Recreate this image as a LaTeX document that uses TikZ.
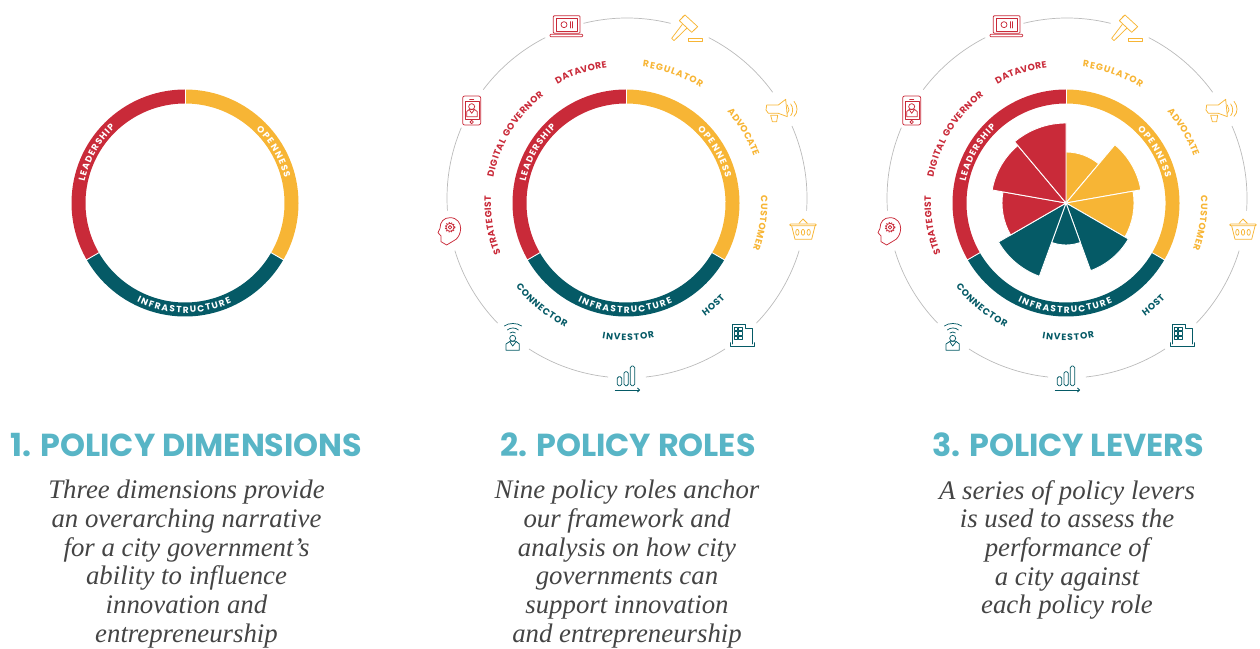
\documentclass[tikz,border=0pt]{standalone}
\usepackage{fontspec}
\usetikzlibrary{decorations.text,arrows.meta}
\setmainfont{Liberation Serif}
\newfontfamily\popfont{Poppins}
\definecolor{cred}{HTML}{C92A39}
\definecolor{cyel}{HTML}{F7B535}
\definecolor{cteal}{HTML}{055A66}
\definecolor{ctitle}{HTML}{58B5C6}
\definecolor{cbody}{HTML}{444444}
\definecolor{cgrey}{HTML}{BBBBBB}
\tikzset{
  titletext/.style={inner sep=0pt,anchor=base,text=ctitle,font=\popfont\bfseries\fontsize{31.8}{34}\selectfont},
  bodytext/.style={inner sep=0pt,anchor=north,align=center,text=cbody,font=\itshape\fontsize{26.8}{28.7}\selectfont},
  sep/.style={draw=white,line width=.9pt},
  petalstyle/.style={draw=white,line width=.9pt},
  orbit/.style={draw=cgrey,line width=.7pt},
  ico/.style={line width=.75pt,line join=round,line cap=round,draw=#1},
}
\newcommand\curved[6]{\path[decorate,decoration={text along path,text={|\popfont\bfseries\fontsize{#1}{10}\selectfont\color{#2}|#3},text align={#6}}] #4 arc[#5];}
\newcommand\rlabel[6]{\curved{#1}{#2}{#3}{(#4:#6)}{start angle=#4,end angle=#5,radius=#6}{fit to path}}
\newcommand\ringseg[3]{\fill[#3] (#1:113.5) arc[start angle=#1,end angle=#2,radius=113.5] -- (#2:99.5) arc[start angle=#2,end angle=#1,radius=99.5] -- cycle;}
\newcommand\dimring[1]{%
 \begin{scope}[shift={(#1,445)}]
  \ringseg{90}{210}{cred}\ringseg{90}{-30}{cyel}\ringseg{210}{330}{cteal}
  \foreach \a in {90,210,330} \draw[sep] (\a:98) -- (\a:115);
  \rlabel{9.0}{white}{LEADERSHIP}{168}{133}{102.5}
  \rlabel{9.0}{white}{OPENNESS}{46}{14}{102.5}
  \rlabel{9.0}{white}{INFRASTRUCTURE}{-116}{-65}{110}
 \end{scope}}
\newcommand\petal[4]{\filldraw[petalstyle,fill=#4] (0,0) -- (#1:#3) arc[start angle=#1,end angle=#2,radius=#3] -- cycle;}
\newcommand\rolering[1]{%
 \begin{scope}[shift={(#1+1,450)}]
  \foreach \a/\b in {117/143,157/184,197/224,237/264,276/303,316/343,356/383.6,36/63,76/104}
   \draw[orbit] (\a:180) arc[start angle=\a,end angle=\b,radius=180];
 \end{scope}
 \begin{scope}[shift={(#1,445)}]
  \rlabel{9.2}{cred}{DATAVORE}{120}{98}{137}
  \rlabel{9.2}{cyel}{REGULATOR}{83}{57}{137}
  \rlabel{9.2}{cyel}{ADVOCATE}{42}{20.5}{136}
  \rlabel{9.2}{cyel}{CUSTOMER}{3}{-20}{135}
  \rlabel{9.2}{cred}{STRATEGIST}{202}{177}{135}
  \rlabel{9.2}{cred}{DIGITAL GOVERNOR}{169}{127.5}{135}
  \rlabel{9.2}{cteal}{CONNECTOR}{217}{244}{138}
  \rlabel{9.2}{cteal}{INVESTOR}{260}{282}{137.5}
  \rlabel{9.2}{cteal}{HOST}{305}{316}{138}
 \end{scope}
 % red icons, crop 1 coordinates
 \begin{scope}[shift={(#1-626+430,648)},x=.33333pt,y=-.33333pt,ico=cred]
  \draw[rounded corners=1pt] (370,100) rectangle (450,47);
  \draw (378,93) rectangle (442,55);
  \draw[rounded corners=.8pt] (360,103) rectangle (458,110);
  \draw (402,74) circle[radius=9];
  \draw (421,65) -- (421,84) (428,65) -- (428,84);
  \draw[rounded corners=2pt] (98,288) rectangle (152,375);
  \draw (105,303) rectangle (147,358);
  \draw (125,366) circle[radius=5];
  \draw (119,297) -- (131,297);
  \draw (125,320) circle[radius=9];
  \draw (110,350) -- (110,335) -- (118,328) -- (133,328) -- (142,335) -- (142,350) -- cycle;
  \draw (118,329) -- (125,340) -- (133,329);
 \end{scope}
 % head icon and person, crop 3 coordinates
 \begin{scope}[shift={(#1-626+430,448)},x=.33333pt,y=-.33333pt,ico=cred]
  \draw (50,135) -- (33,125) -- (33,108) -- (24,98) -- (30,85) .. controls (30,65) and (42,53) .. (60,53)
     .. controls (82,53) and (92,70) .. (92,85) .. controls (92,100) and (85,112) .. (78,118) -- cycle;
  \draw (60,82) circle[radius=5.5];
  \draw (60,82) circle[radius=12];
  \draw[line width=1.1pt,dash pattern=on 1.1pt off 1.5pt,line cap=butt] (60,82) circle[radius=14.5];
 \end{scope}
 \begin{scope}[shift={(#1-626+430,448)},x=.33333pt,y=-.33333pt,ico=cteal]
  \draw (223,378) .. controls (235,368) and (262,368) .. (275,378);
  \draw (232,390) .. controls (240,382) and (258,382) .. (265,390);
  \draw (240,399) .. controls (245,395) and (252,395) .. (256,399);
  \draw (248,415) circle[radius=9];
  \draw (228,451) -- (228,432) -- (240,424) -- (258,424) -- (268,432) -- (268,451) -- cycle;
  \draw (240,426) -- (248,438) -- (258,426);
  \draw[rounded corners=1.5pt] (562,530) rectangle (575,557);
  \draw[rounded corners=1.5pt] (582,515) rectangle (595,557);
  \draw[rounded corners=1.5pt] (601,498) rectangle (614,557);
  \draw[-{Straight Barb[length=2pt,width=4pt]}] (556,570) -- (630,570);
 \end{scope}
 % yellow icons, crop 2 coordinates
 \begin{scope}[shift={(#1-626+625,648)},x=.33333pt,y=-.33333pt,ico=cyel]
  \draw (180,45) -- (218,80) -- (200,97) -- (163,62) -- cycle;
  \draw (172,52) -- (176,48) (205,92) -- (210,88);
  \draw (172,73) -- (140,115) -- (147,122) -- (185,85);
  \draw (190,115) rectangle (232,125);
  \draw (425,315) -- (460,315) -- (482,298) -- (487,350) -- (460,340) -- (430,340) -- (423,330) -- cycle;
  \draw (487,315) -- (492,330) -- (487,340);
  \draw (437,346) -- (458,346) -- (455,365) -- (442,365) -- cycle;
  \draw (497,312) .. controls (505,322) and (505,338) .. (497,347);
  \draw (507,304) .. controls (519,318) and (519,338) .. (507,349);
 \end{scope}
 \begin{scope}[shift={(#1-626+625,448)},x=.33333pt,y=-.33333pt,ico=cyel]
  \draw[rounded corners=1pt] (494,72) -- (574,72) -- (574,77) -- (494,77) -- cycle;
  \draw (500,78) -- (510,118) -- (560,118) -- (570,78);
  \draw (522,70) -- (534,57) -- (547,70);
  \foreach \x in {517,534,551} \draw (\x,97) ellipse[x radius=5,y radius=9];
 \end{scope}
 \begin{scope}[shift={(#1-626+625,448)},x=.33333pt,y=-.33333pt,ico=cteal]
  \draw (322,432) -- (322,372) -- (362,372) -- (362,385) -- (383,385) -- (383,432);
  \draw (317,428) -- (317,438) -- (388,438) -- (388,428);
  \foreach \y in {382,395,408} {\draw (328,\y) rectangle (338,\y+10); \draw (341,\y) rectangle (351,\y+10);}
 \end{scope}
}
\begin{document}
\begin{tikzpicture}[x=1pt,y=1pt]
\useasboundingbox (0,0) rectangle (1260,648);
\dimring{185}
\dimring{626}
\rolering{626}
\dimring{1066}
\rolering{1066}
\begin{scope}[shift={(1066,445)}]
 \petal{90}{50}{51}{cyel}\petal{50}{10}{76}{cyel}\petal{10}{-30}{68}{cyel}
 \petal{-30}{-70}{72}{cteal}\petal{-70}{-110}{42}{cteal}\petal{-110}{-150}{78}{cteal}
 \petal{210}{170}{64}{cred}\petal{170}{130}{75}{cred}\petal{130}{90}{80}{cred}
\end{scope}
\node[titletext] (t1) at (186.5,191) {1. POLICY DIMENSIONS};
\node[titletext] (t2) at (628,191) {2. POLICY ROLES};
\node[titletext] (t3) at (1068,191) {3. POLICY LEVERS};
\node[bodytext] (b1) at (186.5,168) {Three dimensions provide\\an overarching narrative\\for a city government’s\\ability to influence\\innovation and\\entrepreneurship};
\node[bodytext] (b2) at (627,168) {Nine policy roles anchor\\our framework and\\analysis on how city\\governments can\\support innovation\\and entrepreneurship};
\node[bodytext] (b3) at (1067,168) {A series of policy levers\\is used to assess the\\performance of\\a city against\\each policy role};
\end{tikzpicture}
\end{document}
